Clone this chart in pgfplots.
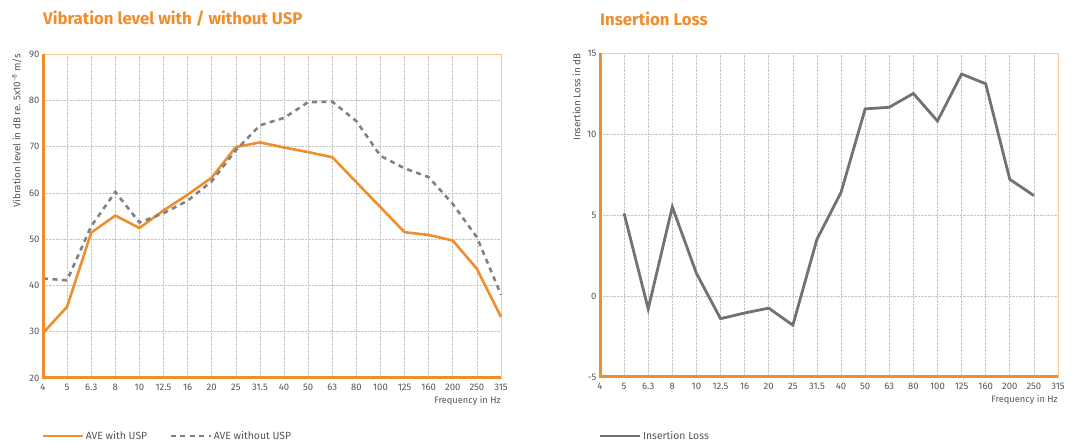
\documentclass[border=0pt]{standalone}
\usepackage{fontspec}
\setmainfont{Fira Sans}
\usepackage{pgfplots}
\usepackage{pgfplotstable}
\pgfplotsset{compat=1.18}

\definecolor{uorange}{RGB}{240,142,45}
\definecolor{lorange}{RGB}{248,200,150}
\definecolor{lgray}{RGB}{130,128,132}
\definecolor{ilgray}{RGB}{118,112,112}
\definecolor{tgray}{RGB}{85,85,85}

% x = category index (4 Hz ... 315 Hz)
\pgfplotstableread{
x with without
0  29.7 41.5
1  35.4 41.1
2  51.4 52.8
3  55.1 60.2
4  52.4 53.6
5  56.2 55.6
6  59.6 58.3
7  63.3 62.5
8  69.9 69.2
9  70.9 74.6
10 69.8 76.2
11 68.8 79.6
12 67.7 79.7
13 62.3 75.5
14 56.9 68.0
15 51.5 65.3
16 50.9 63.4
17 49.7 57.6
18 43.6 50.4
19 33.2 38.0
}\vibdata

\pgfplotstableread{
x il
1  5.1
2  -0.8
3  5.5
4  1.4
5  -1.4
6  -1.05
7  -0.75
8  -1.8
9  3.5
10 6.4
11 11.55
12 11.65
13 12.5
14 10.8
15 13.7
16 13.1
17 7.2
18 6.2
}\ildata

\pgfplotsset{
  freqaxis/.style={
    scale only axis,
    width=458pt, height=324pt,
    anchor=south west,
    clip=false,
    xmin=0, xmax=19,
    xtick={0,...,19},
    xticklabels={4,5,6.3,8,10,12.5,16,20,25,31.5,40,50,63,80,100,125,160,200,250,315},
    grid=major,
    grid style={densely dotted, gray!45, line width=0.6pt},
    major tick length=0pt,
    tick label style={font=\fontsize{9.5}{10}\selectfont, text=tgray},
    /pgf/number format/assume math mode=true,
    axis line style={draw=lorange, line width=0.8pt},
    xticklabel style={yshift=-3pt},
    xlabel={Frequency in Hz},
    xlabel style={at={(rel axis cs:1,0)}, anchor=north east, yshift=-15pt,
      font=\fontsize{9.3}{10}\selectfont, text=tgray, inner xsep=0pt},
    ylabel style={anchor=south east,
      font=\fontsize{9.8}{10}\selectfont, text=tgray, inner sep=0pt},
    legend style={draw=none, fill=none, anchor=north west,
      font=\fontsize{10.4}{11}\selectfont, text=tgray, legend columns=2,
      /tikz/every even column/.append style={column sep=20pt}},
    legend cell align=left,
  },
}

\begin{document}
\begin{tikzpicture}
\useasboundingbox (0,0) rectangle (1077pt,441pt);

\node[anchor=west, inner sep=0pt, text=uorange, font=\fontsize{16.8}{18}\selectfont\bfseries]
  at (43pt,422pt) {Vibration level with / without USP};
\node[anchor=west, inner sep=0pt, text=uorange, font=\fontsize{16.8}{18}\selectfont\bfseries]
  at (600pt,422pt) {Insertion Loss};

\begin{axis}[
  freqaxis,
  at={(43pt,63pt)},
  ymin=20, ymax=90, ytick={20,30,...,90},
  ylabel={Vibration level in dB re. 5x10\textsuperscript{-8} m/s},
  ylabel style={at={(axis description cs:-0.047,1)}},
  legend style={at={(rel axis cs:0,0)}, yshift=-49pt, xshift=-5pt},
  legend image code/.code={\draw[#1] (0pt,0pt) -- (40pt,0pt);},
]
\addplot[uorange, line width=2.6pt] table[x=x, y=with] {\vibdata};
\addlegendentry{AVE with USP}
\addplot[lgray, line width=2.6pt, dash pattern=on 5pt off 4.5pt] table[x=x, y=without] {\vibdata};
\addlegendentry{AVE without USP}
\draw[uorange, line width=3pt] (rel axis cs:0,1) -- (rel axis cs:0,0) -- (rel axis cs:1,0);
\end{axis}

\begin{axis}[
  freqaxis,
  at={(600pt,64pt)},
  ymin=-5, ymax=15, ytick={-5,0,5,10,15},
  ylabel={Insertion Loss in dB},
  ylabel style={at={(axis description cs:-0.042,1)}},
  legend style={at={(rel axis cs:0,0)}, yshift=-50pt, xshift=-5pt},
  legend image code/.code={\draw[#1] (0pt,0pt) -- (40pt,0pt);},
]
\addplot[ilgray, line width=2.8pt] table[x=x, y=il] {\ildata};
\addlegendentry{Insertion Loss}
\draw[uorange, line width=3pt] (rel axis cs:0,1) -- (rel axis cs:0,0) -- (rel axis cs:1,0);
\end{axis}
\end{tikzpicture}
\end{document}
